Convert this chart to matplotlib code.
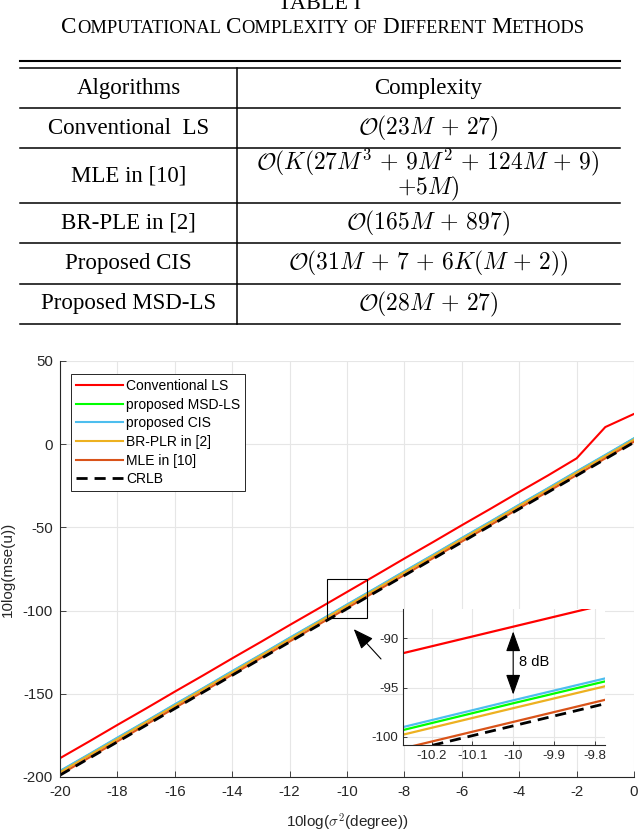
import matplotlib
matplotlib.use('Agg')
import matplotlib.pyplot as plt
from matplotlib.patches import Rectangle

plt.rcParams['font.family'] = ['Liberation Sans', 'DejaVu Sans']
plt.rcParams['mathtext.fontset'] = 'cm'
plt.rcParams['axes.unicode_minus'] = False

# ---- table content ----
table_label = 'TABLE I'
table_caption = 'Computational Complexity of Different Methods'
col_names = ['Algorithms', 'Complexity']
alg_names = ['Conventional  LS', 'MLE in [10]', 'BR-PLE in [2]',
             'Proposed CIS', 'Proposed MSD-LS']
complexity = [r'$\mathcal{O}(23M\,+\,27)$',
              r'$\mathcal{O}(K(27M^3\,+\,9M^2\,+\,124M\,+\,9)$' + '\n' + r'$+5M)$',
              r'$\mathcal{O}(165M\,+\,897)$',
              r'$\mathcal{O}(31M\,+\,7\,+\,6K(M\,+\,2))$',
              r'$\mathcal{O}(28M\,+\,27)$']

# ---- curve data ----
sigma_db = [-20, -19, -18, -17, -16, -15, -14, -13, -12, -11, -10,
            -9, -8, -7, -6, -5, -4, -3, -2, -1, 0]
conv_ls = [-188.7, -178.8, -168.7, -158.8, -148.7, -138.8, -128.7, -118.8,
           -108.7, -98.8, -88.8, -78.8, -68.7, -58.8, -48.7, -38.8, -28.7,
           -18.8, -8.5, 10.3, 18.2]
msd_ls = [-196.6, -186.7, -176.6, -166.7, -156.6, -146.7, -136.6, -126.7,
          -116.6, -106.7, -96.6, -86.7, -76.6, -66.7, -56.6, -46.7, -36.6,
          -26.7, -16.6, -6.7, 3.4]
cis = [-196.3, -186.4, -176.3, -166.4, -156.3, -146.4, -136.3, -126.4,
       -116.3, -106.4, -96.3, -86.4, -76.3, -66.4, -56.3, -46.4, -36.3,
       -26.4, -16.3, -6.4, 3.6]
br_plr = [-197.2, -187.1, -177.2, -167.1, -157.2, -147.1, -137.2, -127.1,
          -117.2, -107.1, -97.1, -87.2, -77.1, -67.2, -57.1, -47.2, -37.1,
          -27.2, -17.1, -7.2, 2.8]
mle = [-198.6, -188.5, -178.6, -168.5, -158.5, -148.6, -138.5, -128.5,
       -118.6, -108.5, -98.5, -88.5, -78.6, -68.5, -58.5, -48.6, -38.5,
       -28.5, -18.6, -8.5, 1.5]
crlb = [-198.9, -188.9, -178.9, -168.9, -158.9, -148.9, -138.9, -128.9,
        -118.9, -108.9, -98.9, -88.9, -78.9, -68.9, -58.9, -48.9, -38.9,
        -28.9, -18.9, -8.9, 1.1]

series = [
    ('Conventional LS', conv_ls, '#ff0000', '-'),
    ('proposed MSD-LS', msd_ls, '#00ff00', '-'),
    ('proposed CIS', cis, '#4dbeee', '-'),
    ('BR-PLR in [2]', br_plr, '#edb120', '-'),
    ('MLE in [10]', mle, '#d95319', '-'),
    ('CRLB', crlb, 'black', '--'),
]

W, H = 640, 833
fig = plt.figure(figsize=(W / 100, H / 100), dpi=100)

# pixel-space axes for the table
tab = fig.add_axes([0, 0, 1, 1])
tab.set_xlim(0, W)
tab.set_ylim(H, 0)
tab.axis('off')
tab.patch.set_alpha(0)

serif = 'Liberation Serif'
renderer = fig.canvas.get_renderer()


def small_caps(ax, xc, y, text, big, small):
    pieces = []
    for word in text.split(' '):
        if word[0].isupper():
            pieces.append((word[0], big))
            pieces.append((word[1:].upper(), small))
        else:
            pieces.append((word.upper(), small))
        pieces.append((None, big))
    pieces = pieces[:-1]
    objs, total = [], 0
    for s, fs in pieces:
        if s is None:
            w = 0.22 * fs * 100 / 72
            objs.append((None, w))
        else:
            t = ax.text(0, y, s, fontsize=fs, family=serif, va='baseline')
            w = t.get_window_extent(renderer).width
            objs.append((t, w))
        total += w
    x = xc - total / 2
    for t, w in objs:
        if t is not None:
            t.set_x(x)
        x += w


tab.text(W / 2, 8.5, table_label, fontsize=16, family=serif,
         ha='center', va='baseline')
small_caps(tab, 323, 32.5, table_caption, 16.6, 13.3)

x0, x1, xsep = 20, 620, 237
rules = [108, 148, 203, 243, 284, 324]
tab.plot([x0, x1], [60.5, 60.5], color='black', lw=1.5)
tab.plot([x0, x1], [68, 68], color='black', lw=1.1)
for r in rules:
    tab.plot([x0, x1], [r, r], color='black', lw=1.1)
tab.plot([xsep, xsep], [68, rules[-1]], color='black', lw=1.1)

cx_left, cx_right = (x0 + xsep) / 2, 428
tfs = 16.5
mfs = 17
tab.text(cx_left, 88, col_names[0], fontsize=tfs, family=serif,
         ha='center', va='center')
tab.text(cx_right, 88, col_names[1], fontsize=tfs, family=serif,
         ha='center', va='center')
tops = rules[:-1]
bots = rules[1:]
for name, cplx, a, b in zip(alg_names, complexity, tops, bots):
    yc = (a + b) / 2
    tab.text(cx_left, yc, name, fontsize=tfs, family=serif,
             ha='center', va='center')
    lines = cplx.split('\n')
    if len(lines) == 1:
        tab.text(cx_right, yc, lines[0], fontsize=mfs,
                 ha='center', va='center')
    else:
        tab.text(cx_right, yc - 13.5, lines[0], fontsize=mfs,
                 ha='center', va='center')
        tab.text(cx_right, yc + 13.5, lines[1], fontsize=mfs,
                 ha='center', va='center')

# ---- main chart ----
axc = '#262626'
ax = fig.add_axes([60 / W, 1 - 777 / H, 574 / W, 416 / H])
for label, y, c, ls in series:
    if ls == '--':
        ax.plot(sigma_db, y, color=c, lw=2, dashes=(4, 2.5), label=label)
    else:
        ax.plot(sigma_db, y, color=c, lw=1.5, label=label)
ax.set_xlim(-20, 0)
ax.set_ylim(-200, 50)
ax.set_xticks(range(-20, 1, 2))
ax.set_yticks(range(-200, 51, 50))
ax.grid(True, color='#e6e6e6', lw=0.8)
ax.set_axisbelow(True)
for s in ['top', 'right']:
    ax.spines[s].set_visible(False)
for s in ['left', 'bottom']:
    ax.spines[s].set_color(axc)
    ax.spines[s].set_linewidth(0.8)
ax.tick_params(direction='in', length=4, width=0.6, colors=axc,
               labelsize=10.8)
ax.tick_params(axis='x', pad=6)
ax.tick_params(axis='y', pad=5)
ax.set_xlabel(r'10log($\sigma^2$(degree))', fontsize=11, color=axc)
ax.set_ylabel('10log(mse(u))', fontsize=11, color=axc)
ax.xaxis.set_label_coords(0.5, -0.083)
ax.yaxis.set_label_coords(-0.078, 0.5)

leg = ax.legend(loc='upper left', bbox_to_anchor=(0.019, 0.968),
                borderaxespad=0, fontsize=10, handlelength=3.4,
                handletextpad=0.25, labelspacing=0.33, borderpad=0.35,
                fancybox=False, framealpha=1, edgecolor=axc)
leg.get_frame().set_linewidth(0.7)

ax.add_patch(Rectangle((-10.7, -104.6), 1.4, 23.4, fill=False,
                       edgecolor='black', lw=0.8, zorder=5))
ax.annotate('', xy=(-9.83, -109.9), xytext=(-8.75, -130.3),
            arrowprops=dict(arrowstyle='-|>,head_length=0.9,head_width=0.35',
                            mutation_scale=14, color='black', lw=0.8))

# ---- inset ----
ins = fig.add_axes([403 / W, 1 - 745 / H, 202 / W, 136 / H])
for label, y, c, ls in series:
    if ls == '--':
        ins.plot(sigma_db, y, color=c, lw=2, dashes=(4, 2.5))
    else:
        ins.plot(sigma_db, y, color=c, lw=1.6)
ins.set_xlim(-10.27, -9.775)
ins.set_ylim(-100.85, -87.0)
ins.set_xticks([-10.2, -10.1, -10, -9.9, -9.8])
ins.set_xticklabels(['-10.2', '-10.1', '-10', '-9.9', '-9.8'])
ins.set_yticks([-100, -95, -90])
ins.grid(True, color='#e6e6e6', lw=0.8)
ins.set_axisbelow(True)
for s in ['top', 'right']:
    ins.spines[s].set_visible(False)
for s in ['left', 'bottom']:
    ins.spines[s].set_color(axc)
    ins.spines[s].set_linewidth(0.8)
ins.tick_params(direction='in', length=3, width=0.6, colors=axc,
                labelsize=9.5, pad=3.5)
ins.annotate('', xy=(-10, -96.0), xytext=(-10, -89.0),
             arrowprops=dict(arrowstyle='<|-|>,head_length=1.4,head_width=0.5',
                             mutation_scale=9, color='black', lw=0.8))
ins.text(-9.985, -92.4, '8 dB', fontsize=10.5, va='center', ha='left',
         color='black')

fig.savefig('out.png', dpi=100)
